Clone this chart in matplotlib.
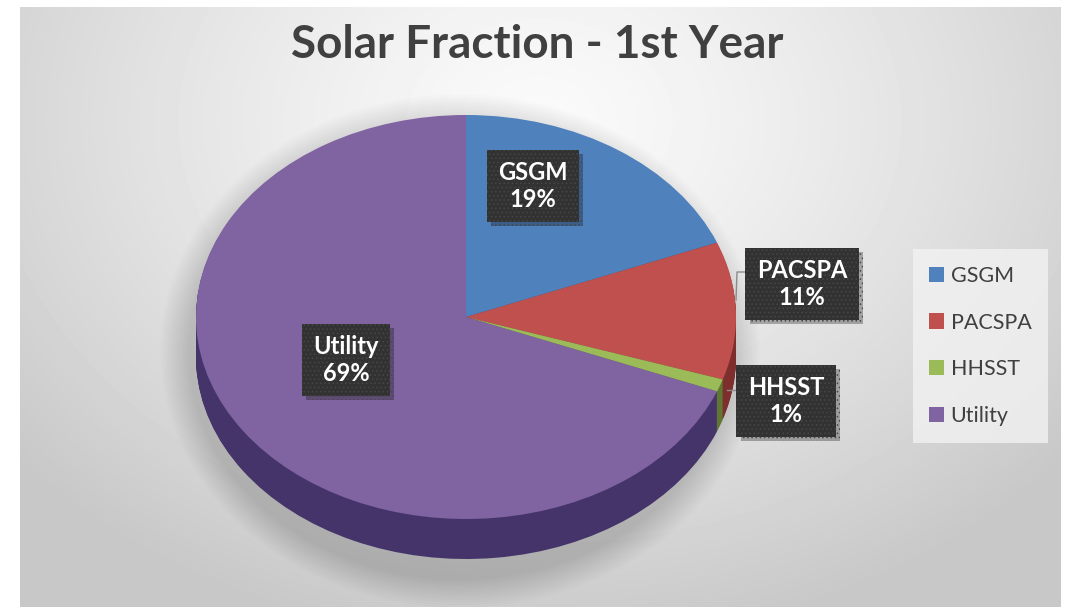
import numpy as np
import matplotlib.pyplot as plt
from matplotlib.transforms import Affine2D
from matplotlib.patches import Ellipse
import matplotlib.patheffects as pe

# data
categories = ['GSGM', 'PACSPA', 'HHSST', 'Utility']
fractions = [19, 11, 1, 69]
top_colors = ['#4f81bd', '#c0504d', '#9bbb59', '#8064a2']
side_colors = ['#2f5180', '#7e2f2d', '#5f7733', '#45346a']

W, H = 1069, 607

def Y(y):
    # image pixel row -> axes y (y up)
    return H - y

plt.rcParams['hatch.linewidth'] = 0.6

fig = plt.figure(figsize=(W / 100, H / 100), dpi=100)
ax = fig.add_axes([0, 0, 1, 1])

# background gradient panel
xx, yy = np.meshgrid(np.linspace(20, 1061, 300), np.linspace(7, 607, 200))
d = np.hypot((xx - 540) / 1.0, (yy - 120) * 1.3)
v = np.clip(250 - 44 * (d / 620) ** 1.3, 200, 250) / 255
ax.imshow(v, cmap='gray', vmin=0, vmax=1, extent=[20, 1061, Y(607), Y(7)],
          origin='upper', zorder=0, aspect='auto', interpolation='bilinear')

# pie geometry (pixels)
cx, cy = 466, Y(317)
rx, ry = 270, 202
depth = 40

# soft shadow (mostly below / lower-left)
for i in range(12):
    g = i * 2.5
    ax.add_patch(Ellipse((cx - 6, cy - depth / 2 - 14), 2 * rx + 4 + g * 2, 2 * ry + depth + 14 + g * 2,
                         facecolor='black', edgecolor='none', alpha=0.012, zorder=1))

def squash(dy):
    return Affine2D().translate(-cx, -cy).scale(1, ry / rx).translate(cx, cy - dy) + ax.transData

# side of the pie: stacked layers
for k in range(depth, 0, -1):
    wedges, _ = ax.pie(fractions, colors=side_colors, startangle=90, counterclock=False,
                       radius=rx, center=(cx, cy), wedgeprops=dict(linewidth=0))
    for w in wedges:
        w.set_transform(squash(k))
        w.set_zorder(2)

# top face
wedges, _ = ax.pie(fractions, colors=top_colors, startangle=90, counterclock=False,
                   radius=rx, center=(cx, cy), wedgeprops=dict(linewidth=0))
for w in wedges:
    w.set_transform(squash(0))
    w.set_zorder(3)

# data labels
label_pos = [(533, 186), (802, 284), (786, 401), (346, 360)]
for name, val, (lx, ly) in zip(categories, fractions, label_pos):
    t = ax.text(lx, Y(ly), f'{name}\n{val}%', ha='center', va='center', color='white',
                fontsize=17, fontweight='bold', family='Lato', linespacing=1.2, zorder=6,
                bbox=dict(boxstyle='square,pad=0.48', facecolor='#323232',
                          edgecolor='#474747', hatch='....', linewidth=0))
    t.get_bbox_patch().set_path_effects([pe.SimplePatchShadow(offset=(3, -3), alpha=0.3),
                                         pe.Normal()])

# leader lines
ax.plot([736, 737, 748], [Y(300), Y(272), Y(272)], color='#8c8c8c', lw=1, zorder=5)
ax.plot([727, 738], [Y(390), Y(390)], color='#8c8c8c', lw=1, zorder=5)

# title
ax.text(537, Y(45), 'Solar Fraction - 1st Year', ha='center', va='center',
        fontsize=33, fontweight='bold', family='Lato', color='#404040', zorder=6)

# legend
leg = ax.legend(wedges, categories, loc='center left',
                bbox_to_anchor=(913 / W, Y(346) / H), bbox_transform=fig.transFigure,
                frameon=True, fancybox=False, labelspacing=1.25,
                handlelength=0.7, handleheight=0.7, handletextpad=0.3,
                borderpad=0.75, borderaxespad=0, prop={'family': 'Lato', 'size': 15.5})
leg.get_frame().set_facecolor('#f2f2f2')
leg.get_frame().set_edgecolor('none')
leg.get_frame().set_alpha(0.8)
for txt in leg.get_texts():
    txt.set_color('#404040')
leg.set_zorder(6)

ax.set_aspect('auto')
ax.set_xlim(0, W)
ax.set_ylim(0, H)
ax.axis('off')

fig.savefig('out.png', dpi=100, facecolor='white')
